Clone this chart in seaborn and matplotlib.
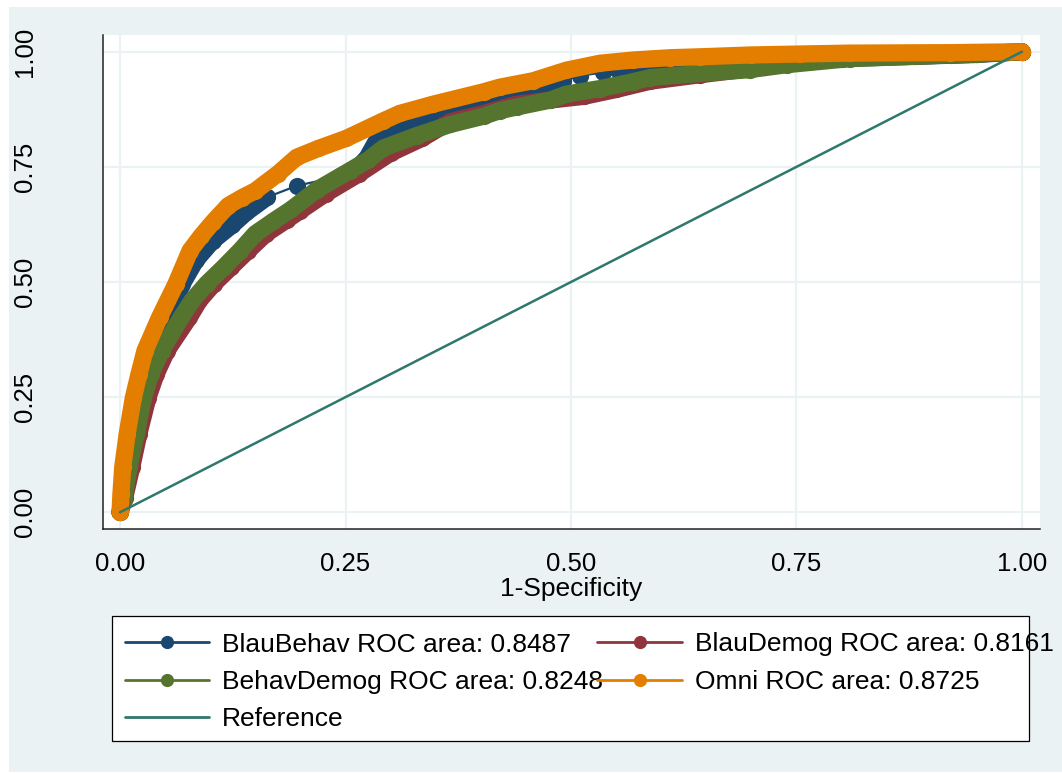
import numpy as np
import pandas as pd
import matplotlib
matplotlib.use("Agg")
import matplotlib.pyplot as plt
import seaborn as sns
from matplotlib.lines import Line2D
from matplotlib.patches import Rectangle

# ---------------- data ----------------
blau_behav_x = [0, 0.004, 0.010, 0.018, 0.026, 0.036, 0.045, 0.054, 0.069, 0.084,
                0.103, 0.124, 0.140, 0.163, 0.196, 0.245, 0.262, 0.274, 0.284,
                0.296, 0.310, 0.329, 0.366, 0.403, 0.421, 0.440, 0.466, 0.491, 0.510,
                0.536, 0.551, 0.584, 0.620, 0.660, 0.720, 0.800, 0.880, 0.950, 1.0]
blau_behav_y = [0, 0.050, 0.140, 0.220, 0.280, 0.330, 0.380, 0.424, 0.496, 0.547,
                0.590, 0.623, 0.651, 0.684, 0.709, 0.730, 0.745, 0.770, 0.805,
                0.832, 0.843, 0.850, 0.866, 0.886, 0.894, 0.905, 0.923, 0.937, 0.948,
                0.955, 0.962, 0.970, 0.972, 0.973, 0.976, 0.985, 0.990, 0.994, 1.0]

blau_demog_x = [0, 0.005, 0.013, 0.021, 0.031, 0.040, 0.052, 0.077, 0.088, 0.104,
                0.123, 0.142, 0.162, 0.185, 0.200, 0.228, 0.265, 0.300, 0.335, 0.366,
                0.403, 0.440, 0.477, 0.514, 0.550, 0.588, 0.643, 0.698, 0.755, 0.810,
                0.870, 0.940, 1.0]
blau_demog_y = [0, 0.030, 0.098, 0.171, 0.249, 0.300, 0.351, 0.424, 0.460, 0.496,
                0.532, 0.568, 0.605, 0.635, 0.655, 0.692, 0.735, 0.780, 0.812, 0.848,
                0.866, 0.886, 0.895, 0.903, 0.918, 0.936, 0.950, 0.963, 0.981, 0.988,
                0.990, 0.994, 1.0]

behav_demog_x = [0, 0.004, 0.010, 0.018, 0.026, 0.034, 0.046, 0.068, 0.080, 0.096,
                 0.115, 0.133, 0.150, 0.170, 0.190, 0.218, 0.255, 0.275, 0.292, 0.329,
                 0.366, 0.403, 0.421, 0.440, 0.477, 0.495, 0.532, 0.569, 0.588, 0.643,
                 0.698, 0.740, 0.809, 0.883, 0.920, 0.950, 1.0]
behav_demog_y = [0, 0.030, 0.098, 0.171, 0.249, 0.300, 0.351, 0.424, 0.460, 0.496,
                 0.532, 0.568, 0.605, 0.632, 0.658, 0.700, 0.742, 0.765, 0.791, 0.818,
                 0.842, 0.860, 0.872, 0.880, 0.895, 0.908, 0.920, 0.935, 0.944, 0.953,
                 0.961, 0.972, 0.985, 0.990, 0.993, 0.995, 1.0]

omni_x = [0, 0.001, 0.003, 0.008, 0.0148, 0.021, 0.0277, 0.044, 0.062, 0.0776,
          0.090, 0.103, 0.120, 0.135, 0.150, 0.175, 0.196, 0.220, 0.251, 0.292,
          0.310, 0.347, 0.403, 0.421, 0.458, 0.495, 0.532, 0.569, 0.610, 0.643,
          0.700, 0.754, 0.809, 0.920, 1.0]
omni_y = [0, 0.040, 0.098, 0.171, 0.249, 0.300, 0.351, 0.424, 0.496, 0.568,
          0.600, 0.630, 0.666, 0.683, 0.698, 0.735, 0.771, 0.790, 0.812, 0.850,
          0.866, 0.886, 0.913, 0.923, 0.937, 0.960, 0.975, 0.982, 0.987, 0.989,
          0.993, 0.995, 0.997, 0.998, 1.0]

reference_x = [0, 1]
reference_y = [0, 1]

labels = ["BlauBehav ROC area: 0.8487", "BlauDemog ROC area: 0.8161",
          "BehavDemog ROC area: 0.8248", "Omni ROC area: 0.8725", "Reference"]
tick_values = [0, 0.25, 0.5, 0.75, 1.0]
tick_labels = ["0.00", "0.25", "0.50", "0.75", "1.00"]
x_title = "1-Specificity"

# ---------------- style ----------------
NAVY, MAROON, GREEN, ORANGE, TEAL = "#1A476F", "#90353B", "#55752F", "#E37E00", "#2F786C"
BG = "#EAF2F3"
W, H = 1062, 773
BAND = 12.4     # marker/band diameter in points
FS = 18.5
FS_LEG = 19.0

sns.set_theme(style="white")
plt.rcParams['font.family'] = ['Liberation Sans', 'DejaVu Sans']

fig = plt.figure(figsize=(W / 100, H / 100), dpi=100, facecolor="white")

def fx(px):
    return px / W

def fy(py):
    return 1 - py / H

# graph region background
fig.add_artist(Rectangle((fx(9), fy(772)), fx(1062) - fx(9), fy(7) - fy(772),
                         transform=fig.transFigure, facecolor=BG, edgecolor="none", zorder=0))

ax = fig.add_axes([fx(102.7), fy(529), fx(1040) - fx(102.7), fy(35) - fy(529)])
ax.set_facecolor("white")
ax.set_xlim(-0.0192, 1.020)
ax.set_ylim(-0.0363, 1.0363)


def draw_series(x, y, color, thin_steps=()):
    n = len(x)
    run, runs = 0, []
    for i in range(n):
        runs.append(run)
        if i in thin_steps:
            run += 1
    df = pd.DataFrame({"x": x, "y": y, "run": runs})
    sns.lineplot(data=df, x="x", y="y", units="run", estimator=None, sort=False,
                 color=color, linewidth=BAND, solid_capstyle="round",
                 solid_joinstyle="round", ax=ax, legend=False)
    sns.lineplot(data=df, x="x", y="y", estimator=None, sort=False, color=color,
                 linewidth=1.6, marker="o", markersize=BAND, markeredgewidth=0,
                 ax=ax, legend=False)


draw_series(blau_behav_x, blau_behav_y, NAVY, thin_steps={13, 14, 27, 28, 29})
draw_series(blau_demog_x, blau_demog_y, MAROON)
draw_series(behav_demog_x, behav_demog_y, GREEN)
draw_series(omni_x, omni_y, ORANGE)
sns.lineplot(x=reference_x, y=reference_y, color=TEAL, linewidth=1.8, ax=ax,
             estimator=None, sort=False, legend=False)

ax.set_xticks(tick_values)
ax.set_xticklabels(tick_labels)
ax.set_yticks(tick_values)
ax.set_yticklabels(tick_labels, rotation=90, va="center")
ax.grid(True, color=BG, linewidth=1.6)
ax.set_axisbelow(True)
for s in ["top", "right"]:
    ax.spines[s].set_visible(False)
for s in ["left", "bottom"]:
    ax.spines[s].set_color("#222222")
    ax.spines[s].set_linewidth(1.1)
ax.tick_params(axis="both", which="major", direction="out", length=8, width=1.0,
               color="#222222", labelsize=FS, labelcolor="black")
ax.tick_params(axis="x", pad=8.5)
ax.tick_params(axis="y", pad=39)
ax.set_xlabel(x_title, fontsize=19, labelpad=1, color="black")
ax.set_ylabel("")

# ---------------- legend (drawn in figure pixels) ----------------
fig.add_artist(Rectangle((fx(112), fy(740.5)), fx(1029) - fx(112), fy(616) - fy(740.5),
                         transform=fig.transFigure, facecolor="white",
                         edgecolor="black", linewidth=0.9, zorder=3))
entries = [
    (labels[0], NAVY, True, 0, 0),
    (labels[1], MAROON, True, 1, 0),
    (labels[2], GREEN, True, 0, 1),
    (labels[3], ORANGE, True, 1, 1),
    (labels[4], TEAL, False, 0, 2),
]
col_line = [(124.5, 209), (597, 682)]
col_text = [222, 695]
row_y = [642, 679.5, 716.5]
for text, color, has_marker, c, r in entries:
    fig.text(fx(col_text[c]), fy(row_y[r] + 9.5), text, fontsize=FS_LEG, va="baseline",
             ha="left", color="black", zorder=4)
for text, color, has_marker, c, r in entries:
    x0, x1 = col_line[c]
    yy = row_y[r]
    fig.add_artist(Line2D([fx(x0), fx(x1)], [fy(yy), fy(yy)], transform=fig.transFigure,
                          color=color, linewidth=2.0, zorder=5))
    if has_marker:
        fig.add_artist(Line2D([fx((x0 + x1) / 2)], [fy(yy)], transform=fig.transFigure,
                              color=color, marker="o", markersize=9.5,
                              markeredgewidth=0, linestyle="none", zorder=5))

fig.savefig("out.png", dpi=100, facecolor="white")
